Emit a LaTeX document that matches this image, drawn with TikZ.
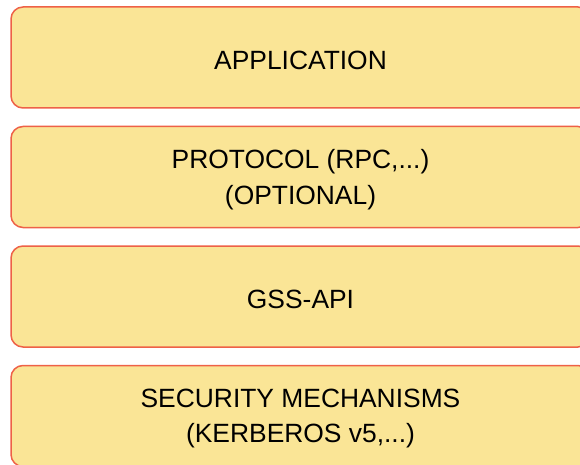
\documentclass[tikz,border=0pt]{standalone}
\usepackage{fontspec}
\setmainfont{Liberation Sans}
\definecolor{boxfill}{HTML}{FAE596}
\definecolor{boxdraw}{HTML}{EE6147}
\begin{document}
\begin{tikzpicture}[x=1pt,y=1pt,
  layer/.style={draw=boxdraw, fill=boxfill, line width=1.5pt, rounded corners=12pt,
    minimum width=579pt, minimum height=101pt, inner sep=0pt},
  label text/.style={align=center, inner sep=0pt, yshift=-2.5pt,
    font=\fontsize{26.4}{35.5}\selectfont}]
\useasboundingbox (0,0) rectangle (580,464);
\begin{scope}
\clip (0,0) rectangle (580,464);
\node[layer] (app) at (300.5,406.5) {};
\node[layer] (proto) at (300.5,287) {};
\node[layer] (gss) at (300.5,167.5) {};
\node[layer] (sec) at (300.5,48) {};
\node[label text] (appt) at (app) {APPLICATION};
\node[label text] (protot) at (proto) {PROTOCOL (RPC,...)\\(OPTIONAL)};
\node[label text] (gsst) at (gss) {GSS-API};
\node[label text] (sect) at (sec) {SECURITY MECHANISMS\\(KERBEROS v5,...)};
\end{scope}
\end{tikzpicture}
\end{document}
